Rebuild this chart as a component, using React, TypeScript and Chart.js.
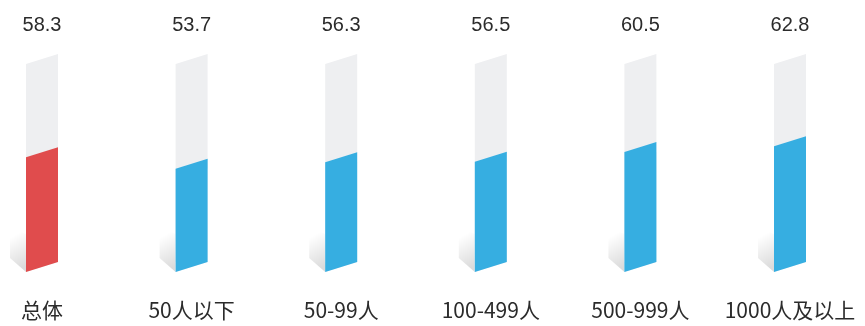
import React, { useEffect, useRef } from "react";
import { Chart, registerables } from "chart.js";

Chart.register(...registerables);

const categories = ["总体", "50人以下", "50-99人", "100-499人", "500-999人", "1000人及以上"];
const values = [58.3, 53.7, 56.3, 56.5, 60.5, 62.8];
const trackValues = [96, 96, 96, 96, 96, 96];
const barColors = ["#E04C4D", "#36AEE1", "#36AEE1", "#36AEE1", "#36AEE1", "#36AEE1"];
const scaleMin = 12;
const scaleMax = 96;

const TRACK_COLOR = "#EEEFF1";
const SLOPE = 0.3125;
const TEXT_COLOR = "#2b2b2b";

const skewPlugin = {
  id: "skewBars",
  afterDatasetsDraw(chart: any) {
    const ctx = chart.ctx as CanvasRenderingContext2D;
    const trackEls = chart.getDatasetMeta(0).data;
    const fillEls = chart.getDatasetMeta(1).data;
    const area = chart.chartArea;
    const quad = (pts: number[]) => {
      ctx.beginPath();
      ctx.moveTo(pts[0], pts[1]);
      for (let k = 2; k < pts.length; k += 2) ctx.lineTo(pts[k], pts[k + 1]);
      ctx.closePath();
      ctx.fill();
    };
    ctx.save();
    trackEls.forEach((el: any, i: number) => {
      const p = el.getProps(["x", "y", "base", "width"], true);
      const half = p.width / 2;
      const s = half * SLOPE;
      const l = p.x - half;
      const r = p.x + half;
      const bl = p.base + s;
      // shadow
      const g = ctx.createLinearGradient(l, bl - 6, l - 16, bl - 34);
      g.addColorStop(0, "rgba(0,0,0,0.14)");
      g.addColorStop(1, "rgba(0,0,0,0)");
      ctx.fillStyle = g;
      quad([l, bl - 38, l - 16, bl - 45, l - 16, bl - 14, l, bl]);
      // track
      ctx.fillStyle = TRACK_COLOR;
      quad([l, p.y + s, r, p.y - s, r, p.base - s, l, p.base + s]);
      // fill
      const f = fillEls[i].getProps(["x", "y", "base", "width"], true);
      ctx.fillStyle = barColors[i];
      quad([l, f.y + s, r, f.y - s, r, f.base - s, l, f.base + s]);
      // value label
      ctx.fillStyle = TEXT_COLOR;
      ctx.font = "20px 'Liberation Sans', Arial, sans-serif";
      ctx.textAlign = "center";
      ctx.textBaseline = "middle";
      ctx.fillText(values[i].toFixed(1), p.x, area.top - 34);
      // category label
      ctx.font = "21px 'Noto Sans CJK SC', sans-serif";
      ctx.fillText(categories[i], p.x, area.bottom + 43);
    });
    ctx.restore();
  },
};

export default function App() {
  const ref = useRef<HTMLCanvasElement | null>(null);
  useEffect(() => {
    document.body.style.margin = "0";
    const canvas = ref.current;
    if (!canvas) return;
    const chart = new Chart(canvas, {
      type: "bar",
      data: {
        labels: categories,
        datasets: [
          {
            data: trackValues,
            base: scaleMin,
            backgroundColor: "transparent",
            borderWidth: 0,
            barThickness: 32,
          },
          {
            data: values,
            base: scaleMin,
            backgroundColor: "transparent",
            borderWidth: 0,
            barThickness: 32,
          },
        ],
      } as any,
      options: {
        animation: false,
        responsive: false,
        devicePixelRatio: 1,
        layout: { padding: { left: 42, right: 75, top: 59, bottom: 59 } },
        plugins: { legend: { display: false }, tooltip: { enabled: false } },
        scales: {
          x: {
            display: false,
            offset: false,
          },
          y: {
            display: false,
            min: scaleMin,
            max: scaleMax,
          },
        },
        datasets: { bar: { grouped: false } },
      } as any,
      plugins: [skewPlugin],
    });
    return () => chart.destroy();
  }, []);
  return (
    <div style={{ width: 865, height: 326 }}>
      <canvas ref={ref} width={865} height={326} style={{ display: "block" }} />
    </div>
  );
}
